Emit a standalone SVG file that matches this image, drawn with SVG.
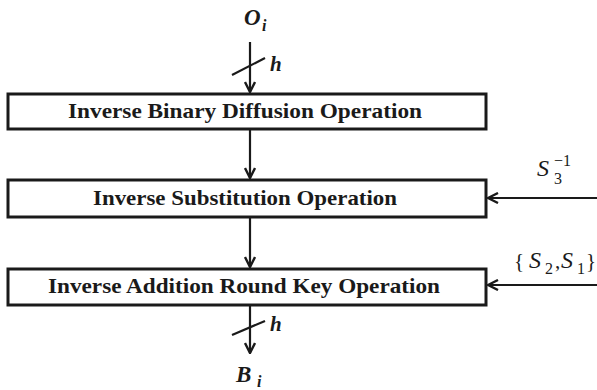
<svg xmlns="http://www.w3.org/2000/svg" width="597" height="390" viewBox="0 0 597 390">
<style>
.box{fill:#fff;stroke:#1a1a1a;stroke-width:3}
.lbl{font-family:"Liberation Serif","Times New Roman",serif;font-weight:bold;font-size:21px;fill:#1a1a1a}
.conn{stroke:#1a1a1a;stroke-width:2.2;fill:none}
.math{font-family:"Liberation Serif","Times New Roman",serif;font-style:italic;fill:#1a1a1a}
.up{font-style:normal}
.mb{font-weight:bold}
</style>
<defs>
<marker id="ah" viewBox="0 0 12 12" refX="11" refY="6" markerWidth="12" markerHeight="12" markerUnits="userSpaceOnUse" orient="auto">
<path d="M1,1 L11,6 L1,11" fill="none" stroke="#1a1a1a" stroke-width="2.4"/>
</marker>
</defs>
<rect width="597" height="390" fill="#fff"/>
<g id="connectors">
<line class="conn" x1="250" y1="42" x2="250" y2="92" marker-end="url(#ah)"/>
<line class="conn" x1="232" y1="75" x2="265" y2="58"/>
<line class="conn" x1="250" y1="130" x2="250" y2="178" marker-end="url(#ah)"/>
<line class="conn" x1="250" y1="218" x2="250" y2="267" marker-end="url(#ah)"/>
<line class="conn" x1="250" y1="306" x2="250" y2="353" marker-end="url(#ah)"/>
<line class="conn" x1="232" y1="335" x2="265" y2="321"/>
<line class="conn" x1="597" y1="198" x2="488" y2="198" marker-end="url(#ah)"/>
<line class="conn" x1="597" y1="285" x2="488" y2="285" marker-end="url(#ah)"/>
</g>
<g id="node-binary-diffusion">
<rect class="box" x="8" y="94" width="478" height="35"/>
<text class="lbl" x="245" y="118" text-anchor="middle" textLength="354" lengthAdjust="spacingAndGlyphs">Inverse Binary Diffusion Operation</text>
</g>
<g id="node-substitution">
<rect class="box" x="8" y="180" width="478" height="37"/>
<text class="lbl" x="245" y="205" text-anchor="middle" textLength="304" lengthAdjust="spacingAndGlyphs">Inverse Substitution Operation</text>
</g>
<g id="node-addition-round-key">
<rect class="box" x="8" y="269" width="478" height="36"/>
<text class="lbl" x="244" y="293" text-anchor="middle" textLength="392" lengthAdjust="spacingAndGlyphs">Inverse Addition Round Key Operation</text>
</g>
<g id="labels">
<text class="math mb" x="244" y="25" font-size="23">O</text>
<text class="math mb" x="262" y="31" font-size="16">i</text>
<text class="math mb" x="270" y="71" font-size="21">h</text>
<text class="math mb" x="270" y="331" font-size="21">h</text>
<text class="math mb" x="236" y="382" font-size="23">B</text>
<text class="math mb" x="257" y="387" font-size="16">i</text>
<text class="math" x="537" y="176" font-size="24">S</text>
<text class="math up" x="554" y="184" font-size="16">3</text>
<text class="math up" x="554" y="166" font-size="16">−1</text>
<text class="math up" x="514" y="268" font-size="21">{</text>
<text class="math" x="529" y="268" font-size="24">S</text>
<text class="math up" x="545" y="274" font-size="16">2</text>
<text class="math up" x="555" y="268" font-size="21">,</text>
<text class="math" x="561" y="268" font-size="24">S</text>
<text class="math up" x="577" y="274" font-size="16">1</text>
<text class="math up" x="586" y="268" font-size="21">}</text>
</g>
</svg>
